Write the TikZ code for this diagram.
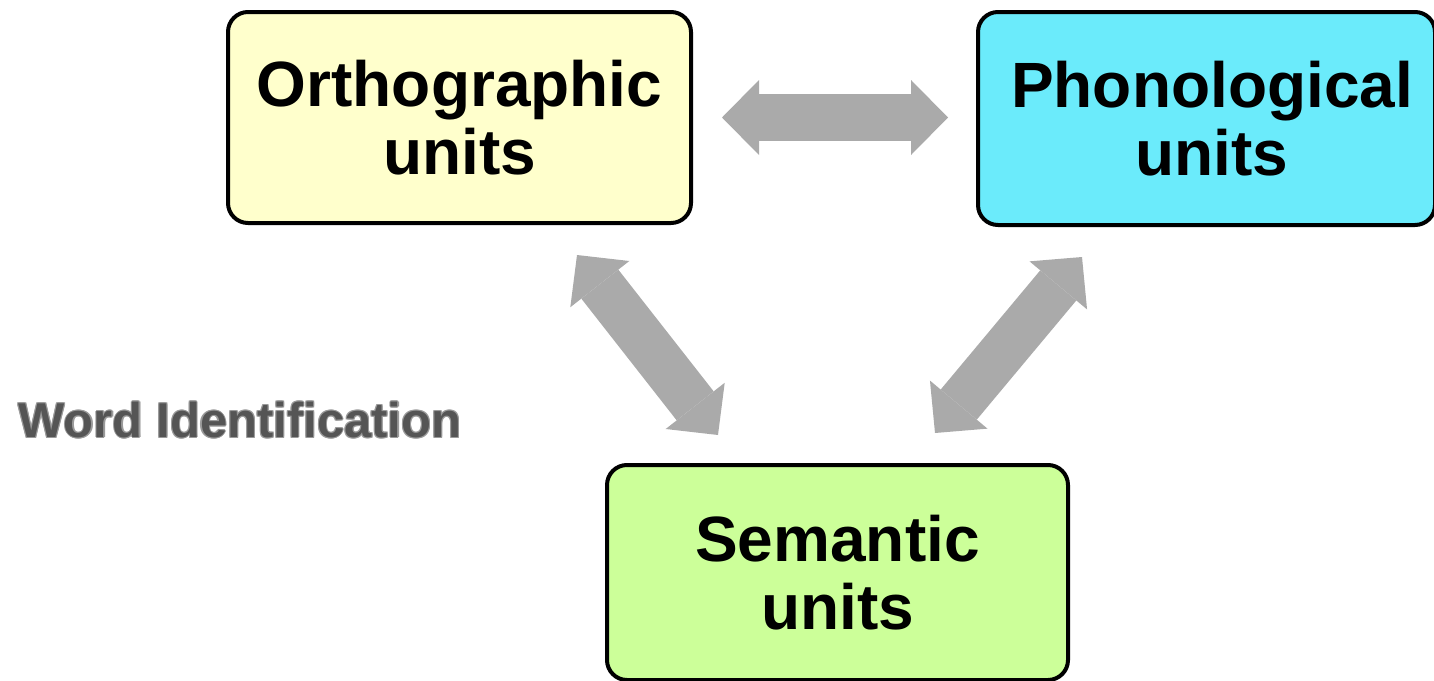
\documentclass[tikz,border=0pt]{standalone}
\usepackage{fontspec}
\setmainfont{Liberation Sans}
\usetikzlibrary{arrows.meta}

\definecolor{orthofill}{HTML}{FFFFCC}
\definecolor{phonofill}{HTML}{6BEBFB}
\definecolor{semfill}{HTML}{CCFF99}
\definecolor{linkgray}{HTML}{AAAAAA}
\definecolor{titlegray}{HTML}{555555}
\definecolor{titleedge}{HTML}{9A9A9A}

\tikzset{
  unitbox/.style={draw=black, line width=2pt, rounded corners=10pt,
    align=center, inner sep=0pt,
    font=\bfseries\fontsize{32pt}{34pt}\selectfont},
  unittext/.style={align=center, inner sep=0pt,
    font=\bfseries\fontsize{32pt}{34pt}\selectfont},
  biglink/.style={draw=linkgray, line width=23.5pt,
    {Triangle[width=37.5pt,length=18.5pt,line width=0pt]}-{Triangle[width=37.5pt,length=18.5pt,line width=0pt]}},
  titletext/.style={font=\bfseries\fontsize{24.5pt}{26pt}\selectfont, inner sep=0pt}
}

\begin{document}
\begin{tikzpicture}[x=0.5pt, y=-0.5pt]
  \useasboundingbox (0,0) rectangle (1434,680);
  \clip (0,0) rectangle (1434,680);

  % the three kinds of units
  \node[unitbox, fill=orthofill, minimum width=231.5pt, minimum height=105.5pt]
    (ortho) at (459.5,117.5) {Orthographic\\units};
  \node[unitbox, fill=phonofill, minimum width=228.5pt, minimum height=106.5pt]
    (phono) at (1206.5,118.5) {};
  \node[unittext] (phonolabel) at (1212,118.5) {Phonological\\units};
  \node[unitbox, fill=semfill, minimum width=230.5pt, minimum height=107.5pt]
    (sem) at (837.5,572.5) {Semantic\\units};

  % end points of the two-way links
  \coordinate (op1) at (722,117.5);
  \coordinate (op2) at (948,117.5);
  \coordinate (os1) at (577,255);
  \coordinate (os2) at (718,435);
  \coordinate (ps1) at (1082,257);
  \coordinate (ps2) at (935,433);

  \draw[biglink] (op1) -- (op2);
  \draw[biglink] (os1) -- (os2);
  \draw[biglink] (ps1) -- (ps2);

  % caption with a light outline
  \foreach \dx/\dy in {1.1/0,-1.1/0,0/1.1,0/-1.1,0.8/0.8,0.8/-0.8,-0.8/0.8,-0.8/-0.8}
    \node[titletext, text=titleedge] at (240+\dx,420+\dy) {Word Identification};
  \node[titletext, text=titlegray] (title) at (240,420) {Word Identification};
\end{tikzpicture}
\end{document}
